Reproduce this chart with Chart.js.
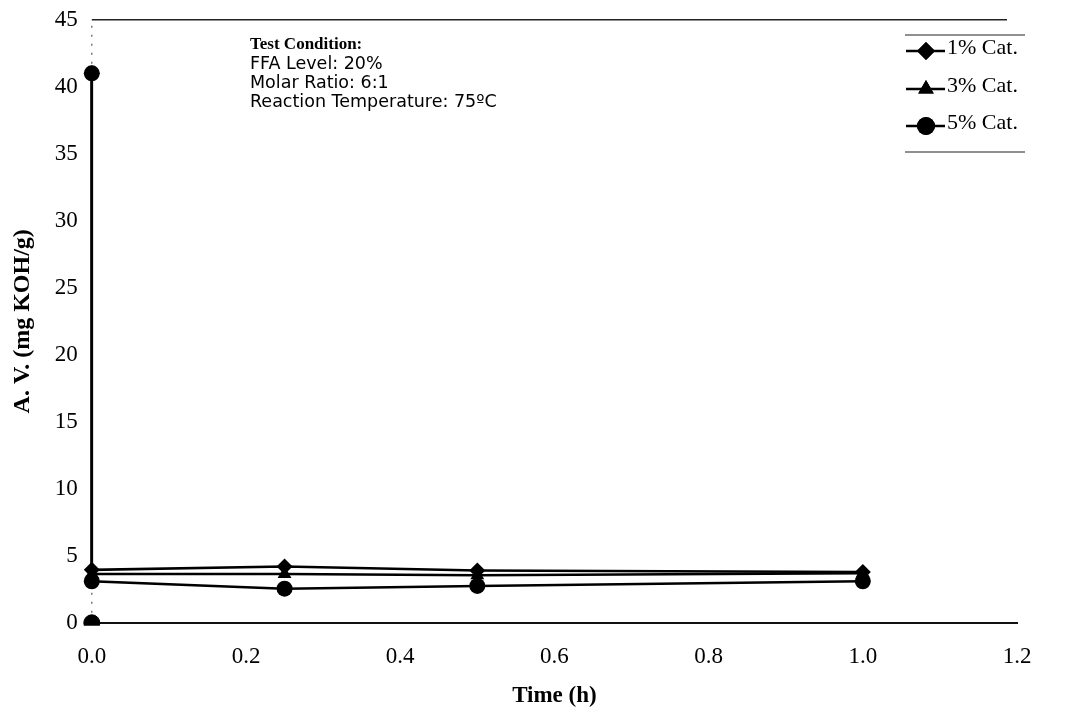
<!DOCTYPE html>
<html lang="en">
<head>
    <meta charset="UTF-8">
    <title>A.V. vs Time</title>
    <script src="https://cdn.jsdelivr.net/npm/chart.js"></script>
    <style>
        body { margin: 0; background: #fff; }
        #wrap { width: 1065px; height: 715px; }
    </style>
</head>
<body>
    <div id="wrap"><canvas id="avChart" width="1065" height="715"></canvas></div>

    <script>
        // data
        const timeH = [0, 0, 0.25, 0.5, 1.0];
        const cat1 = [41, 3.95, 4.2, 3.9, 3.8];
        const cat3 = [41, 3.65, 3.65, 3.55, 3.7];
        const cat5 = [41, 3.1, 2.55, 2.75, 3.1];
        const zeroTime = [0];
        const zeroValue = [0];
        const seriesNames = ['1% Cat.', '3% Cat.', '5% Cat.'];
        const xTicks = [0, 0.2, 0.4, 0.6, 0.8, 1.0, 1.2];
        const yTicks = [0, 5, 10, 15, 20, 25, 30, 35, 40, 45];
        const noteLines = ['Test Condition:', 'FFA Level: 20%', 'Molar Ratio: 6:1', 'Reaction Temperature: 75\u00baC'];

        const serif = '"Liberation Serif", "Times New Roman", serif';
        const sans = '"DejaVu Sans", Verdana, sans-serif';
        const toPts = (xs, ys) => xs.map((x, i) => ({ x: x, y: ys[i] }));

        function series(label, values, style, order) {
            return {
                label: label,
                data: toPts(timeH, values),
                borderColor: '#000',
                backgroundColor: '#000',
                borderWidth: 2.5,
                pointStyle: style,
                pointRadius: 8,
                pointBorderWidth: 0,
                tension: 0,
                clip: false,
                order: order
            };
        }

        // top frame line, dotted y axis, note text and legend box
        const decor = {
            id: 'decor',
            beforeDatasetsDraw(chart) {
                const ctx = chart.ctx;
                const a = chart.chartArea;
                ctx.save();
                ctx.strokeStyle = '#222';
                ctx.lineWidth = 1.5;
                ctx.beginPath();
                ctx.moveTo(a.left, a.top);
                ctx.lineTo(a.right - 10, a.top);
                ctx.stroke();
                ctx.strokeStyle = '#555';
                ctx.lineWidth = 1.2;
                ctx.setLineDash([2, 7]);
                ctx.beginPath();
                ctx.moveTo(a.left, a.top + 6);
                ctx.lineTo(a.left, a.bottom);
                ctx.stroke();
                ctx.restore();
            },
            afterDraw(chart) {
                const ctx = chart.ctx;
                ctx.save();
                ctx.fillStyle = '#000';
                ctx.strokeStyle = '#222';
                ctx.textBaseline = 'middle';
                ctx.textAlign = 'left';
                noteLines.forEach((t, i) => {
                    ctx.font = i === 0 ? 'bold 17px ' + serif : '17.5px ' + sans;
                    ctx.fillText(t, 250, 45 + i * 19);
                });

                // legend
                ctx.lineWidth = 1.2;
                ctx.beginPath();
                ctx.moveTo(905, 35); ctx.lineTo(1025, 35);
                ctx.moveTo(905, 152); ctx.lineTo(1025, 152);
                ctx.stroke();
                const styles = ['rectRot', 'triangle', 'circle'];
                const rows = [48, 86, 123];
                ctx.font = '22px ' + serif;
                seriesNames.forEach((name, i) => {
                    const y = rows[i];
                    ctx.strokeStyle = '#000';
                    ctx.lineWidth = 2.5;
                    ctx.beginPath();
                    ctx.moveTo(906, y + 3); ctx.lineTo(945, y + 3);
                    ctx.stroke();
                    Chart.helpers.drawPoint(ctx, { pointStyle: styles[i], radius: 9, borderWidth: 0 }, 926, y + 3);
                    ctx.fill();
                    ctx.fillText(name, 947, y);
                });
                ctx.restore();
            }
        };

        const chart = new Chart(document.getElementById('avChart').getContext('2d'), {
            type: 'line',
            data: {
                datasets: [
                    series(seriesNames[0], cat1, 'rectRot', 3),
                    series(seriesNames[1], cat3, 'triangle', 2),
                    series(seriesNames[2], cat5, 'circle', 1),
                    {
                        label: 'start',
                        data: toPts(zeroTime, zeroValue),
                        borderColor: '#000',
                        backgroundColor: '#000',
                        pointStyle: 'circle',
                        pointRadius: 8,
                        showLine: false,
                        clip: { left: false, top: false, right: false, bottom: 3 },
                        order: 0
                    }
                ]
            },
            options: {
                responsive: false,
                animation: false,
                layout: { padding: { left: 8, right: 48, top: 0, bottom: 5 } },
                plugins: {
                    legend: { display: false },
                    tooltip: { enabled: false }
                },
                scales: {
                    x: {
                        type: 'linear',
                        min: 0, max: 1.2,
                        afterBuildTicks: s => { s.ticks = xTicks.map(v => ({ value: v })); },
                        ticks: {
                            callback: v => v.toFixed(1),
                            color: '#000',
                            font: { family: serif, size: 23 },
                            padding: 20
                        },
                        grid: { display: false, drawTicks: false },
                        border: { display: true, color: '#111', width: 2 },
                        title: {
                            display: true,
                            text: 'Time (h)',
                            color: '#000',
                            font: { family: serif, size: 23, weight: 'bold' },
                            padding: { top: -8, bottom: 0 }
                        }
                    },
                    y: {
                        min: 0, max: 45,
                        afterBuildTicks: s => { s.ticks = yTicks.map(v => ({ value: v })); },
                        ticks: {
                            color: '#000',
                            font: { family: serif, size: 23, lineHeight: 0.5 },
                            padding: 14
                        },
                        grid: { display: false, drawTicks: false },
                        border: { display: false },
                        title: {
                            display: true,
                            text: 'A. V. (mg KOH/g)',
                            color: '#000',
                            font: { family: serif, size: 24, weight: 'bold' },
                            padding: { top: 0, bottom: 4 }
                        }
                    }
                }
            },
            plugins: [decor]
        });
    </script>
</body>
</html>
